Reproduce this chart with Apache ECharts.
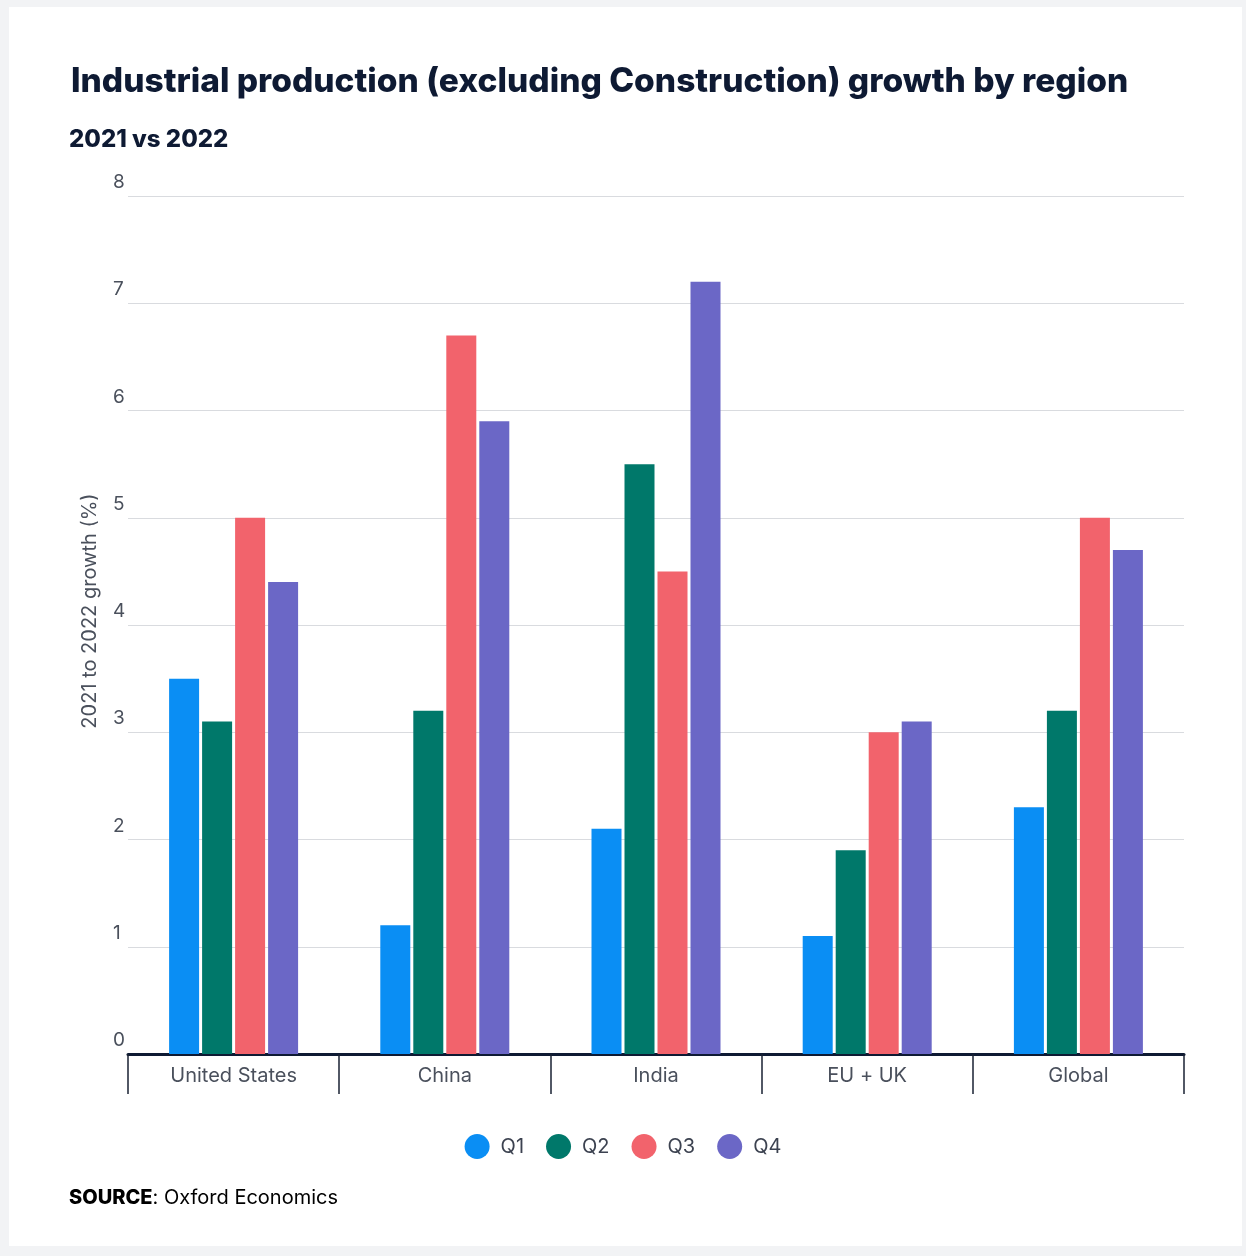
<!DOCTYPE html>
<html><head><meta charset="utf-8">
<script src="https://cdn.jsdelivr.net/npm/echarts@6/dist/echarts.min.js"></script>
<style>html,body{margin:0;padding:0;background:#f2f3f5;}#c{width:1246px;height:1256px;}</style>
</head><body><div id="c"></div>
<script>
const categories = ['United States', 'China', 'India', 'EU + UK', 'Global'];
const seriesNames = ['Q1', 'Q2', 'Q3', 'Q4'];
const q1 = [3.5, 1.2, 2.1, 1.1, 2.3];
const q2 = [3.1, 3.2, 5.5, 1.9, 3.2];
const q3 = [5.0, 6.7, 4.5, 3.0, 5.0];
const q4 = [4.4, 5.9, 7.2, 3.1, 4.7];
const colors = ['#0a8ef4', '#00786a', '#f2636c', '#6b67c6'];
const values = [q1, q2, q3, q4];

const chart = echarts.init(document.getElementById('c'));
const font = 'Inter, "Noto Sans", sans-serif';
chart.setOption({
  backgroundColor: '#f2f3f5',
  animation: false,
  graphic: [
    { type: 'rect', z: -10, shape: { x: 9, y: 7, width: 1233, height: 1239 }, style: { fill: '#ffffff' } },
    { type: 'text', left: 71, top: 65, style: { text: 'Industrial production (excluding Construction) growth by region', font: '800 33.5px ' + font, fill: '#0e1a33' } },
    { type: 'text', left: 69, top: 128, style: { text: '2021 vs 2022', font: '800 24px ' + font, fill: '#0e1a33' } },
    { type: 'text', left: 69, top: 1188, style: { rich: { b: { fontFamily: font, fontWeight: 800, fontSize: 20, color: '#0e1a33' }, n: { fontFamily: font, fontSize: 20, color: '#3c4250' } }, text: '{b|SOURCE}{n|: Oxford Economics}' } }
  ],
  legend: {
    data: seriesNames,
    bottom: 92,
    left: 'center',
    icon: 'circle',
    itemWidth: 25,
    itemHeight: 25,
    itemGap: 22,
    textStyle: { fontFamily: font, fontSize: 20, color: '#3c4250', padding: [0, 0, 0, 6] }
  },
  grid: { left: 128, right: 62, top: 196, bottom: 202, containLabel: false },
  xAxis: {
    type: 'category',
    data: categories,
    axisLine: { lineStyle: { color: '#0e1a33', width: 3 } },
    axisTick: { show: true, alignWithLabel: false, length: 40, lineStyle: { color: '#1a2233', width: 1.5 } },
    axisLabel: { fontFamily: font, fontSize: 20, color: '#4a505c', margin: 12 }
  },
  yAxis: {
    type: 'value',
    min: 0, max: 8, interval: 1,
    name: '2021 to 2022 growth (%)',
    nameLocation: 'middle',
    nameGap: 28,
    nameTextStyle: { fontFamily: font, fontSize: 20, color: '#4a505c', padding: [0, 0, 0, 28] },
    axisLine: { show: false },
    axisTick: { show: false },
    axisLabel: { fontFamily: font, fontSize: 19, color: '#4a505c', verticalAlign: 'bottom', align: 'left', margin: 15, padding: [0, 0, 4, 0] },
    splitLine: { lineStyle: { color: '#d9dbdf', width: 1 } }
  },
  series: values.map((v, i) => ({
    name: seriesNames[i],
    type: 'bar',
    data: v,
    barWidth: 30,
    barGap: '10%',
    itemStyle: { color: colors[i] }
  }))
});
</script></body></html>
